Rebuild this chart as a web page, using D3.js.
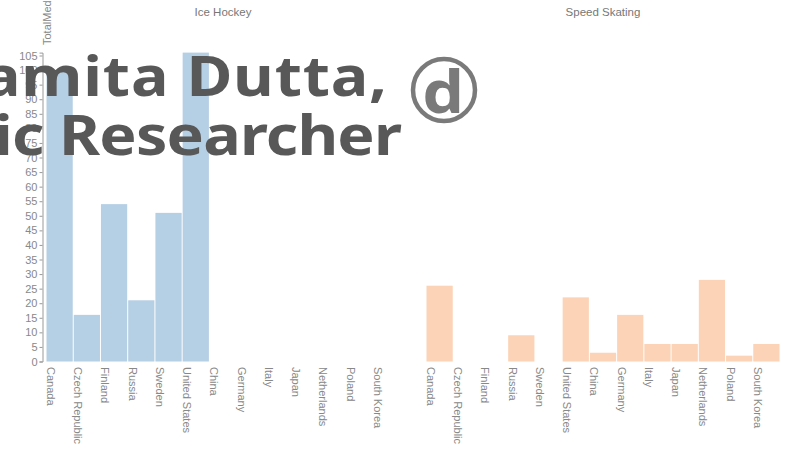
<!DOCTYPE html>
<html>
<head>
<meta charset="utf-8">
<script src="https://cdn.jsdelivr.net/npm/d3@7"></script>
<style>
  body { margin: 0; background: #fff; }
  svg { display: block; }
</style>
</head>
<body>
<div id="chart"></div>
<script>
// data
const countries = ["Canada", "Czech Republic", "Finland", "Russia", "Sweden", "United States",
    "China", "Germany", "Italy", "Japan", "Netherlands", "Poland", "South Korea"];
const sports = ["Ice Hockey", "Speed Skating"];
const iceHockey = [100, 16, 54, 21, 51, 106, 0, 0, 0, 0, 0, 0, 0];
const speedSkating = [26, 0, 0, 9, 0, 22, 3, 16, 6, 6, 28, 2, 6];
const yTicks = d3.range(0, 106, 5);
const colors = ["#b5cfe4", "#fcd3b6"];
const captionLines = ["amita Dutta,", "ic Researcher"];

const width = 788, height = 455;

let svg = d3.select("#chart").append("svg")
    .attr("width", width)
    .attr("height", height);

let y = d3.scaleLinear()
    .domain([0, 106])
    .range([361.5, 52.6]);

// y axis
let yAxis = svg.append("g")
    .attr("transform", "translate(42.5,0)")
    .call(d3.axisLeft(y).tickValues(yTicks).tickSize(3).tickPadding(2));
yAxis.selectAll("text")
    .attr("fill", "#888")
    .style("font", "11px 'Liberation Sans', Arial, sans-serif");
yAxis.selectAll("line").attr("stroke", "#999");
yAxis.select(".domain").attr("stroke", "#999");

svg.append("text")
    .attr("transform", "translate(51,45) rotate(-90)")
    .attr("text-anchor", "start")
    .attr("fill", "#888")
    .style("font", "11px 'Liberation Sans', Arial, sans-serif")
    .text("TotalMedals");

// one panel per sport
let panels = [
    {name: sports[0], values: iceHockey, x0: 46, color: colors[0]},
    {name: sports[1], values: speedSkating, x0: 426, color: colors[1]}
];

panels.forEach(function (p) {
    let x = d3.scaleBand()
        .domain(countries)
        .range([p.x0, p.x0 + 354])
        .padding(0);

    let g = svg.append("g");

    g.append("text")
        .attr("x", p.x0 + 177)
        .attr("y", 16)
        .attr("text-anchor", "middle")
        .attr("fill", "#777")
        .style("font", "11.5px 'Liberation Sans', Arial, sans-serif")
        .text(p.name);

    g.selectAll("rect")
        .data(countries.map(function (c, i) {
            return {country: c, value: p.values[i]};
        }).filter(function (d) { return d.value > 0; }))
        .enter().append("rect")
        .attr("x", function (d) { return x(d.country) + 0.5; })
        .attr("y", function (d) { return y(d.value); })
        .attr("width", x.bandwidth() - 1)
        .attr("height", function (d) { return y(0) - y(d.value); })
        .attr("fill", p.color);

    // x labels
    g.selectAll(".xlabel")
        .data(countries)
        .enter().append("text")
        .attr("class", "xlabel")
        .attr("transform", function (d) {
            return "translate(" + (x(d) + 1) + ",367) rotate(90)";
        })
        .attr("text-anchor", "start")
        .attr("fill", "#888")
        .style("font", "11px 'Liberation Sans', Arial, sans-serif")
        .text(function (d) { return d; });
});

// overlay caption from the video frame (frame is stretched wide)
let sx = 1.12;
let cap = svg.append("g")
    .attr("transform", "scale(" + sx + ",1)")
    .attr("fill", "#585858")
    .style("font", "700 56px 'Noto Sans', sans-serif");
cap.append("text")
    .attr("x", -17 / sx).attr("y", 96)
    .attr("textLength", 404 / sx).attr("lengthAdjust", "spacing")
    .text(captionLines[0]);
cap.append("text")
    .attr("x", -6 / sx).attr("y", 155)
    .attr("textLength", 408 / sx).attr("lengthAdjust", "spacing")
    .text(captionLines[1]);

// logo
svg.append("circle")
    .attr("cx", 444)
    .attr("cy", 90)
    .attr("r", 31)
    .attr("fill", "none")
    .attr("stroke", "#7a7a7a")
    .attr("stroke-width", 4.5);
svg.append("text")
    .attr("transform", "translate(443,113) scale(1.1,1)")
    .attr("text-anchor", "middle")
    .attr("fill", "#7a7a7a")
    .style("font", "700 60px 'Noto Sans', sans-serif")
    .text("d");
</script>
</body>
</html>
